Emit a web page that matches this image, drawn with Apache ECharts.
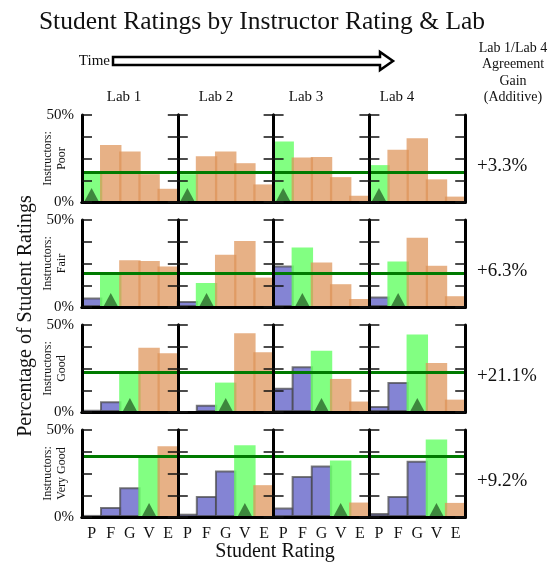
<!DOCTYPE html>
<html>
<head>
<meta charset="utf-8">
<script src="https://cdn.jsdelivr.net/npm/echarts@6/dist/echarts.min.js"></script>
<style>
  html, body { margin: 0; padding: 0; background: #fff; }
  #chart { width: 550px; height: 564px; }
</style>
</head>
<body>
<div id="chart"></div>
<script>
// categories
const ratings = ["P", "F", "G", "V", "E"];
const labs = ["Lab 1", "Lab 2", "Lab 3", "Lab 4"];
const instructors = ["Poor", "Fair", "Good", "Very Good"];
const gains = ["+3.3%", "+6.3%", "+21.1%", "+9.2%"];
const yTicks = [0, 50];

// percentage of student ratings, one array per lab, for each instructor rating
const poor = [
  [16.2, 32.8, 29.0, 16.0, 7.6],
  [16.0, 26.3, 29.0, 22.3, 10.1],
  [34.7, 25.6, 25.8, 14.3, 3.6],
  [21.2, 30.0, 36.6, 13.0, 3.1]
];
const fair = [
  [5.4, 18.8, 26.9, 26.5, 23.3],
  [3.5, 13.8, 30.0, 37.9, 16.9],
  [23.8, 34.2, 25.6, 13.1, 4.6],
  [6.0, 26.2, 39.8, 23.7, 6.2]
];
const good = [
  [1.3, 6.2, 22.3, 36.9, 33.8],
  [0, 4.2, 16.9, 45.2, 34.4],
  [14.0, 26.3, 35.2, 19.0, 6.0],
  [3.5, 17.3, 44.6, 28.1, 7.1]
];
const veryGood = [
  [1.2, 5.8, 17.1, 34.8, 40.6],
  [1.9, 12.1, 26.7, 41.2, 18.3],
  [5.4, 23.5, 29.6, 32.5, 8.3],
  [2.3, 12.1, 32.3, 44.6, 8.1]
];
// Lab 1 agreement level, drawn as the green line in each row
const baseline = [17.2, 19.2, 22.9, 34.8];

const rows = [poor, fair, good, veryGood];
const serif = "Liberation Serif";

const left0 = 82, colW = 95.8, top0 = 115, rowStep = 105, panelH = 87;

let grid = [], xAxis = [], yAxis = [], series = [];

function barStyle(i, r) {
  if (i < r) {
    return { color: "#7d7dd2", borderColor: "rgba(70,70,70,0.75)", borderWidth: 2, opacity: 0.95 };
  } else if (i == r) {
    return { color: "#6cff6c", opacity: 0.85 };
  }
  return { color: "#de9358", opacity: 0.72 };
}

rows.forEach((labData, r) => {
  labData.forEach((vals, c) => {
    let g = grid.length;
    grid.push({ left: left0 + c * colW, top: top0 + r * rowStep, width: colW, height: panelH });
    let axLine = { show: true, lineStyle: { color: "#000", width: 3 } };
    xAxis.push({
      gridIndex: g, type: "category", data: ratings, position: "bottom", z: 5,
      axisLine: axLine, axisTick: { show: false },
      axisLabel: { show: r == 3, margin: 9, fontFamily: serif, fontSize: 16, color: "#111" }
    });
    xAxis.push({
      gridIndex: g, type: "category", data: ratings, position: "top", z: 5,
      axisLine: axLine, axisTick: { show: false }, axisLabel: { show: false }
    });
    let yBase = {
      gridIndex: g, type: "value", min: 0, max: 50, interval: 12.5, z: 5,
      axisLine: axLine, splitLine: { show: false },
      axisTick: { show: true, inside: true, length: 10, lineStyle: { color: "#111", width: 1.5 } }
    };
    yAxis.push(Object.assign({}, yBase, {
      position: "left",
      axisLabel: {
        show: c == 0, margin: 8, fontFamily: serif, fontSize: 15, color: "#111",
        showMinLabel: true, showMaxLabel: true,
        formatter: v => yTicks.indexOf(v) >= 0 ? v + "%" : ""
      }
    }));
    yAxis.push(Object.assign({}, yBase, { position: "right", axisLabel: { show: false } }));

    series.push({
      type: "bar",
      xAxisIndex: 2 * g, yAxisIndex: 2 * g,
      barWidth: "112%",
      silent: true,
      data: vals.map((v, i) => ({ value: v, itemStyle: barStyle(i, r) })),
      markLine: {
        silent: true, symbol: ["none", "none"], label: { show: false },
        lineStyle: { color: "#007a00", width: 3, type: "solid" },
        data: [{ yAxis: baseline[r] }]
      }
    });
    // triangle marker under the matching rating
    series.push({
      type: "scatter",
      xAxisIndex: 2 * g, yAxisIndex: 2 * g,
      silent: true, z: 4,
      symbol: "triangle", symbolSize: [15, 14], symbolOffset: [0, "-50%"],
      itemStyle: { color: "#357a35", opacity: 0.9 },
      data: [[ratings[r], 0]]
    });
  });
});

let graphic = [
  { type: "text", x: 262, y: 22, style: { text: "Student Ratings by Instructor Rating & Lab", font: "25.5px " + serif, fill: "#111", align: "center", verticalAlign: "middle" } },
  { type: "text", x: 110, y: 61, style: { text: "Time", font: "15px " + serif, fill: "#111", align: "right", verticalAlign: "middle" } },
  {
    type: "polygon",
    shape: { points: [[113, 57], [380, 57], [380, 52], [393, 61], [380, 70], [380, 65], [113, 65]] },
    style: { fill: "#fff", stroke: "#000", lineWidth: 2.5 }
  },
  { type: "text", x: 513, y: 73, style: { text: "Lab 1/Lab 4\nAgreement\nGain\n(Additive)", font: "14px " + serif, fill: "#111", align: "center", verticalAlign: "middle", lineHeight: 16.5 } },
  { type: "text", x: 26, y: 316, rotation: Math.PI / 2, style: { text: "Percentage of Student Ratings", font: "20px " + serif, fill: "#111", align: "center", verticalAlign: "middle" } },
  { type: "text", x: 275, y: 552, style: { text: "Student Rating", font: "20px " + serif, fill: "#111", align: "center", verticalAlign: "middle" } }
];
const labX = [124, 216, 306, 397];
labs.forEach((l, i) => {
  graphic.push({ type: "text", x: labX[i], y: 97, style: { text: l, font: "15px " + serif, fill: "#111", align: "center", verticalAlign: "middle" } });
});
instructors.forEach((t, r) => {
  graphic.push({ type: "text", x: 55, y: top0 + r * rowStep + panelH / 2, rotation: Math.PI / 2, style: { text: "Instructors:\n" + t, font: "12px " + serif, fill: "#111", align: "center", verticalAlign: "middle", lineHeight: 14 } });
});
gains.forEach((t, r) => {
  graphic.push({ type: "text", x: 477, y: top0 + r * rowStep + panelH / 2 + 8, style: { text: t, font: "19px " + serif, fill: "#111", align: "left", verticalAlign: "middle" } });
});

const chart = echarts.init(document.getElementById("chart"));
chart.setOption({
  animation: false,
  backgroundColor: "#fff",
  grid: grid,
  xAxis: xAxis,
  yAxis: yAxis,
  series: series,
  graphic: graphic
});
</script>
</body>
</html>
